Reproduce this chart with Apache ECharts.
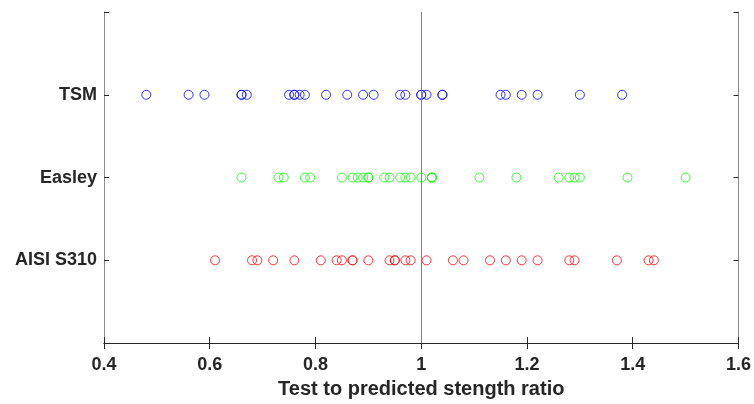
<!DOCTYPE html>
<html>
<head>
<meta charset="utf-8">
<script src="https://cdn.jsdelivr.net/npm/echarts@6/dist/echarts.min.js"></script>
<style>
  html, body { margin: 0; padding: 0; background: #fff; }
  #chart { width: 754px; height: 404px; }
</style>
</head>
<body>
<div id="chart"></div>
<script>
// rows, bottom to top
var categories = ['AISI S310', 'Easley', 'TSM']
var xTicks = [0.4, 0.6, 0.8, 1, 1.2, 1.4, 1.6]

var aisiValues = [0.61, 0.68, 0.69, 0.72, 0.76, 0.81, 0.84, 0.85, 0.87, 0.87, 0.90, 0.94, 0.95, 0.95,
  0.97, 0.98, 1.01, 1.06, 1.08, 1.13, 1.16, 1.19, 1.22, 1.28, 1.29, 1.37, 1.43, 1.44]
var easleyValues = [0.66, 0.73, 0.74, 0.78, 0.79, 0.85, 0.87, 0.88, 0.89, 0.90, 0.90, 0.93, 0.94, 0.96,
  0.97, 0.98, 1.00, 1.02, 1.02, 1.02, 1.11, 1.18, 1.26, 1.28, 1.29, 1.30, 1.39, 1.50]
var tsmValues = [0.48, 0.56, 0.59, 0.66, 0.66, 0.67, 0.75, 0.76, 0.76, 0.77, 0.78, 0.82, 0.86, 0.89,
  0.91, 0.96, 0.97, 1.00, 1.00, 1.01, 1.04, 1.04, 1.15, 1.16, 1.19, 1.22, 1.30, 1.38]

var chart = echarts.init(document.getElementById('chart'))

function row(values, idx) {
  return values.map(function (v) { return [v, idx + 1] })
}

function dotSeries(name, values, idx, color) {
  return {
    name: name,
    type: 'scatter',
    symbol: 'circle',
    symbolSize: 9,
    itemStyle: {
      color: 'rgba(0,0,0,0)',
      borderColor: color,
      borderWidth: 1
    },
    emphasis: { disabled: true },
    data: row(values, idx)
  }
}

var fontFam = '"Liberation Sans", Arial, sans-serif'

chart.setOption({
  animation: false,
  grid: { left: 104, right: 14, top: 12, bottom: 59 },
  xAxis: [{
    type: 'value',
    min: xTicks[0],
    max: xTicks[xTicks.length - 1],
    interval: 0.2,
    name: 'Test to predicted stength ratio',
    nameLocation: 'middle',
    nameGap: 35,
    nameTextStyle: { color: '#262626', fontWeight: 'bold', fontSize: 20, fontFamily: fontFam },
    axisLine: { show: true, lineStyle: { color: '#262626', width: 1 } },
    axisTick: { show: true, inside: true, length: 6, lineStyle: { color: '#262626' } },
    axisLabel: {
      color: '#262626', fontWeight: 'bold', fontSize: 18, fontFamily: fontFam, margin: 13,
      formatter: function (v) { return String(Math.round(v * 10) / 10) }
    },
    splitLine: { show: false }
  }, {
    type: 'value',
    position: 'top',
    min: xTicks[0],
    max: xTicks[xTicks.length - 1],
    interval: 0.2,
    axisLine: { show: true, lineStyle: { color: '#262626', width: 1 } },
    axisTick: { show: true, inside: true, length: 6, lineStyle: { color: '#262626' } },
    axisLabel: { show: false },
    splitLine: { show: false }
  }],
  yAxis: [{
    type: 'value',
    min: 0,
    max: 4,
    interval: 1,
    axisLine: { show: true, lineStyle: { color: '#8c8c8c', width: 1 } },
    axisTick: { show: true, inside: true, length: 5, lineStyle: { color: '#262626' } },
    axisLabel: {
      color: '#262626', fontWeight: 'bold', fontSize: 18, fontFamily: fontFam, margin: 7,
      formatter: function (v) { return categories[v - 1] || '' }
    },
    splitLine: { show: false }
  }, {
    type: 'value',
    position: 'right',
    min: 0,
    max: 4,
    interval: 1,
    axisLine: { show: true, lineStyle: { color: '#8c8c8c', width: 1 } },
    axisTick: { show: true, inside: true, length: 5, lineStyle: { color: '#262626' } },
    axisLabel: { show: false },
    splitLine: { show: false }
  }],
  series: [
    dotSeries('AISI S310', aisiValues, 0, '#ff0000'),
    dotSeries('Easley', easleyValues, 1, '#00ff00'),
    Object.assign(dotSeries('TSM', tsmValues, 2, '#0000ff'), {
      markLine: {
        silent: true,
        symbol: ['none', 'none'],
        label: { show: false },
        lineStyle: { color: '#808080', width: 1, type: 'solid' },
        data: [{ xAxis: 1 }]
      }
    })
  ]
})
</script>
</body>
</html>
